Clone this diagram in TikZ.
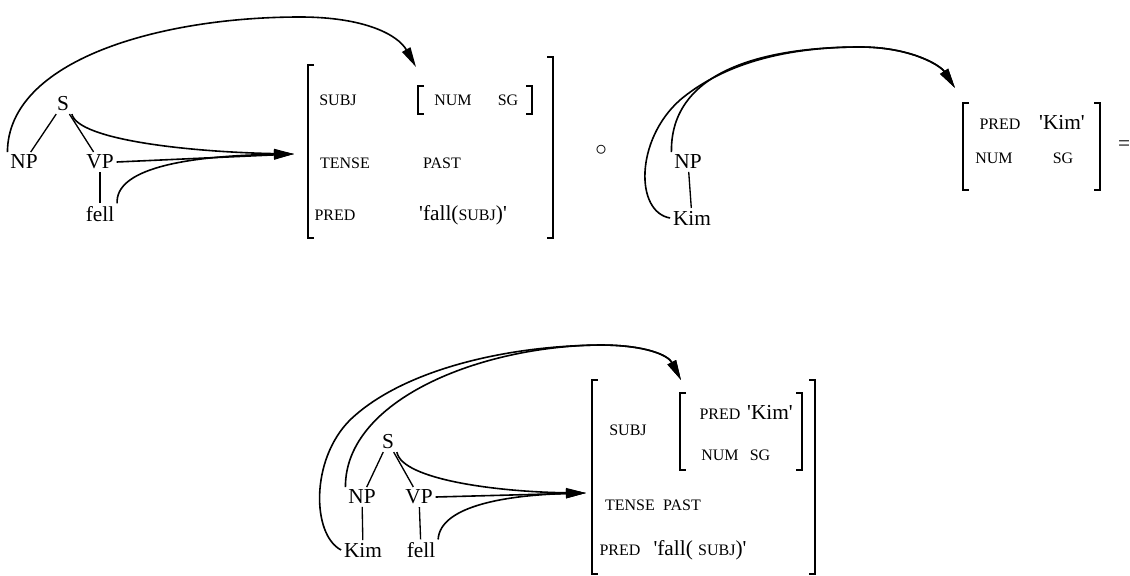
\documentclass[tikz,border=0pt]{standalone}
\usepackage{fontspec}
\setmainfont{Liberation Serif}
\usetikzlibrary{arrows.meta, positioning}

\newcommand{\tq}{\textquotesingle}
\newcommand{\fsm}[1]{{\fontsize{12}{14}\selectfont #1}}

\begin{document}
\begin{tikzpicture}[
        x=0.75pt, y=-0.75pt,
        cat/.style   = {font=\fontsize{16}{18}\selectfont, inner sep=2pt},
        feat/.style  = {font=\fontsize{12}{14}\selectfont, inner sep=1pt},
        tree/.style  = {draw, line width=1pt},
        brack/.style = {draw, line width=1.2pt},
        line/.style  = {draw, line width=1.2pt, -{Triangle[length=15pt, width=7pt]}}
    ]
        \useasboundingbox (0,0) rectangle (1130,575);

        % fell の木
        \node [cat] (s1)    at (63,104)  {S};
        \node [cat] (np1)   at (24,162)  {NP};
        \node [cat] (vp1)   at (100,162) {VP};
        \node [cat] (fell1) at (100,214) {fell};
        \path [tree] (s1) -- (np1);
        \path [tree] (s1) -- (vp1);
        \path [tree] (vp1) -- (fell1);

        % fell の f-構造
        \draw [brack] (314,65) -- (308,65) -- (308,238) -- (314,238);
        \draw [brack] (547,57) -- (553,57) -- (553,238) -- (547,238);
        \draw [brack] (424,86) -- (418,86) -- (418,114) -- (424,114);
        \draw [brack] (526,86) -- (532,86) -- (532,114) -- (526,114);
        \node [feat] (subj1)  at (338,100) {SUBJ};
        \node [feat] (num1)   at (453,100) {NUM};
        \node [feat] (sg1)    at (508,100) {SG};
        \node [feat] (tense1) at (345,163) {TENSE};
        \node [feat] (past1)  at (442,163) {PAST};
        \node [feat] (pred1)  at (335,215) {PRED};
        \node [cat]  (fall1)  at (463,215) {\tq fall(\fsm{SUBJ})\tq};
        \coordinate (f1) at (294,154);
        \coordinate (t1) at (416,67);

        % 矢印
        \path [line] (s1.south east) .. controls (78,140) and (190,152) .. (f1);
        \path [line] (vp1.east) -- (f1);
        \path [line] (fell1.north east) .. controls (115,170) and (180,156) .. (f1);
        \path [line] (np1.north west) .. controls (8,60) and (160,17) .. (300,17)
                     .. controls (365,17) and (398,35) .. (t1);

        \node [cat] (comp) at (601,150) {$\circ$};

        % Kim の木
        \node [cat] (np2)  at (688,162) {NP};
        \node [cat] (kim2) at (692,218) {Kim};
        \path [tree] (np2) -- (kim2);

        \draw [brack] (969,103) -- (963,103) -- (963,190) -- (969,190);
        \draw [brack] (1094,103) -- (1100,103) -- (1100,190) -- (1094,190);
        \node [feat] (pred2) at (1000,124) {PRED};
        \node [cat]  (kimv2) at (1062,122) {\tq Kim\tq};
        \node [feat] (num2)  at (994,158)  {NUM};
        \node [feat] (sg2)   at (1063,158) {SG};
        \node [cat]  (eq)    at (1124,146) {=};
        \coordinate (t2) at (955,88);

        \path [line] (np2.north west) .. controls (670,60) and (790,47) .. (860,47)
                     .. controls (910,47) and (940,65) .. (t2);
        \path [line] (kim2.west) .. controls (635,212) and (635,140) .. (680,100)
                     .. controls (730,58) and (800,47) .. (860,47)
                     .. controls (910,47) and (940,65) .. (t2);

        % 合成後
        \node [cat] (s3)    at (388,442) {S};
        \node [cat] (np3)   at (362,497) {NP};
        \node [cat] (vp3)   at (419,497) {VP};
        \node [cat] (kim3)  at (363,550) {Kim};
        \node [cat] (fell3) at (421,550) {fell};
        \path [tree] (s3) -- (np3);
        \path [tree] (s3) -- (vp3);
        \path [tree] (np3) -- (kim3);
        \path [tree] (vp3) -- (fell3);

        \draw [brack] (598,380) -- (592,380) -- (592,574) -- (598,574);
        \draw [brack] (809,380) -- (815,380) -- (815,574) -- (809,574);
        \draw [brack] (686,393) -- (680,393) -- (680,470) -- (686,470);
        \draw [brack] (796,393) -- (802,393) -- (802,470) -- (796,470);
        \node [feat] (subj3)  at (628,430) {SUBJ};
        \node [feat] (pred3i) at (720,414) {PRED};
        \node [cat]  (kimv3)  at (770,412) {\tq Kim\tq};
        \node [feat] (num3)   at (720,455) {NUM};
        \node [feat] (sg3)    at (760,455) {SG};
        \node [feat] (tense3) at (630,505) {TENSE};
        \node [feat] (past3)  at (682,505) {PAST};
        \node [feat] (pred3)  at (620,550) {PRED};
        \node [cat]  (fall3)  at (700,550) {\tq fall( \fsm{SUBJ})\tq};
        \coordinate (f3) at (586,493);
        \coordinate (t3) at (681,380);

        \path [line] (s3.south east) .. controls (402,480) and (500,492) .. (f3);
        \path [line] (vp3.east) -- (f3);
        \path [line] (fell3.north east) .. controls (440,505) and (510,495) .. (f3);
        \path [line] (np3.north west) .. controls (345,400) and (480,346) .. (600,345)
                     .. controls (645,345) and (668,355) .. (t3);
        \path [line] (kim3.west) .. controls (312,535) and (310,460) .. (350,420)
                     .. controls (400,372) and (500,346) .. (600,345)
                     .. controls (645,345) and (668,355) .. (t3);
    \end{tikzpicture}
\end{document}
